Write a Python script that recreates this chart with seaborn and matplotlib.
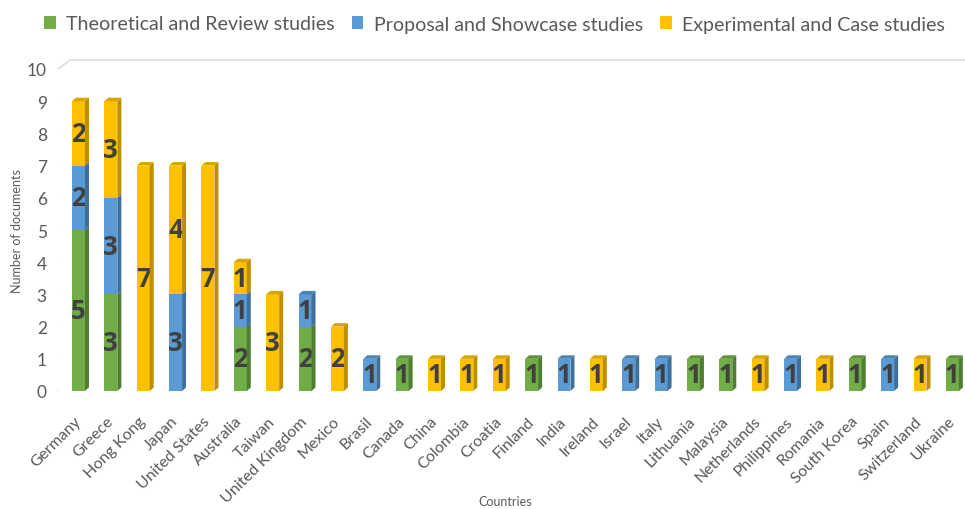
import matplotlib
matplotlib.use("Agg")
import matplotlib.pyplot as plt
from matplotlib.patches import Polygon, Patch
from matplotlib.lines import Line2D
import numpy as np
import pandas as pd
import seaborn as sns

countries = ["Germany", "Greece", "Hong Kong", "Japan", "United States", "Australia",
             "Taiwan", "United Kingdom", "Mexico", "Brasil", "Canada", "China",
             "Colombia", "Croatia", "Finland", "India", "Ireland", "Israel", "Italy",
             "Lithuania", "Malaysia", "Netherlands", "Philippines", "Romania",
             "South Korea", "Spain", "Switzerland", "Ukraine"]
theoretical = [5, 3, 0, 0, 0, 2, 0, 2, 0, 0, 1, 0, 0, 0, 1, 0, 0, 0, 0, 1, 1, 0, 0, 0, 1, 0, 0, 1]
proposal = [2, 3, 0, 3, 0, 1, 0, 1, 0, 1, 0, 0, 0, 0, 0, 1, 0, 1, 1, 0, 0, 0, 1, 0, 0, 1, 0, 0]
experimental = [2, 3, 7, 4, 7, 1, 3, 0, 2, 0, 0, 1, 1, 1, 0, 0, 1, 0, 0, 0, 0, 1, 0, 1, 0, 0, 1, 0]
series_names = ["Theoretical and Review studies", "Proposal and Showcase studies",
                "Experimental and Case studies"]
y_ticks = list(range(0, 11))

front_colors = ["#70AD47", "#5B9BD5", "#FFC000"]
side_colors = ["#4F7D31", "#3F6F9B", "#BD8E00"]
top_colors = ["#5E9139", "#4A83B5", "#D9A300"]

sns.set_theme(style="white")
plt.rcParams["font.family"] = ["Lato", "DejaVu Sans"]

W, H, DPI = 965, 510, 100
fig = plt.figure(figsize=(W / DPI, H / DPI), dpi=DPI)
ax_left, ax_right, ax_bot, ax_top = 58, 965, 392, 70
ax = fig.add_axes([ax_left / W, 1 - ax_bot / H, (ax_right - ax_left) / W, (ax_bot - ax_top) / H])

df = pd.DataFrame({"country": countries, "t": theoretical, "p": proposal, "e": experimental})
df["c1"] = df["t"]
df["c2"] = df["t"] + df["p"]
df["c3"] = df["t"] + df["p"] + df["e"]

# stacked columns: draw cumulative totals back-to-front so each layer covers the one below
bar_w = 0.4
for col, colr in zip(["c3", "c2", "c1"], front_colors[::-1]):
    sns.barplot(data=df, x="country", y=col, order=countries, color=colr,
                width=bar_w, saturation=1, linewidth=0, ax=ax, zorder=3)

n = len(countries)
xmin, xmax = -0.633, 27.39
ax.set_xlim(xmin, xmax)
ax.set_ylim(0, 10)
for s in ax.spines.values():
    s.set_visible(False)
ax.set_yticks(y_ticks)
ax.set_yticklabels([str(v) for v in y_ticks], fontsize=12.5, color="#595959")
ax.tick_params(axis="y", length=0, pad=8)
ax.set_xticks(range(n))
ax.set_xticklabels(countries, rotation=45, ha="right", va="center",
                   rotation_mode="anchor", fontsize=11.5, color="#595959")
ax.tick_params(axis="x", length=0, pad=20)
ax.set_xlabel("")
ax.set_ylabel("")
fig.text(505 / W, 1 - 502 / H, "Countries", ha="center", va="center",
         fontsize=9, color="#595959")
fig.text(17 / W, 1 - 231 / H, "Number of documents", ha="center", va="center",
         rotation=90, fontsize=9, color="#595959")

# back-wall gridlines with the oblique depth slant at the left
gdx, gdy = 12, 9
to_disp = ax.transData
for v in y_ticks:
    _, y0 = to_disp.transform((xmin, v))
    x0 = ax_left
    fig.add_artist(Line2D([x0, x0 + gdx, ax_right], [y0, y0 + gdy, y0 + gdy],
                          transform=None, color="#D9D9D9", lw=1.0, zorder=0))

# depth faces of each column segment
ddx, ddy = 4, 3.5
vals = np.array([theoretical, proposal, experimental])
cum = np.vstack([np.zeros(n), np.cumsum(vals, axis=0)])
for i in range(n):
    top_seg = max(k for k in range(3) if vals[k, i] > 0)
    for k in range(3):
        if vals[k, i] == 0:
            continue
        xl, yb = to_disp.transform((i - bar_w / 2, cum[k, i]))
        xr, yt = to_disp.transform((i + bar_w / 2, cum[k + 1, i]))
        side = Polygon([(xr, yb), (xr + ddx, yb + ddy), (xr + ddx, yt + ddy), (xr, yt)],
                       closed=True, transform=None, facecolor=side_colors[k],
                       edgecolor="none", zorder=2)
        fig.add_artist(side)
        if k == top_seg:
            top = Polygon([(xl, yt), (xl + ddx, yt + ddy), (xr + ddx, yt + ddy), (xr, yt)],
                          closed=True, transform=None, facecolor=top_colors[k],
                          edgecolor="none", zorder=2)
            fig.add_artist(top)
        ax.text(i, cum[k, i] + vals[k, i] / 2, str(vals[k, i]), ha="center", va="center",
                fontsize=18.5, fontweight="bold", color="#404040", zorder=5,
                family=["Open Sans", "DejaVu Sans"])

handles = [Patch(facecolor=c, edgecolor="none") for c in front_colors]
fig.legend(handles, series_names, loc="center", bbox_to_anchor=(494.5 / W, 1 - 25 / H),
           ncol=3, frameon=False, fontsize=14.1, labelcolor="#595959",
           handlelength=0.6, handleheight=0.6, handletextpad=0.55, columnspacing=0.85)

fig.savefig("out.png", dpi=DPI)
